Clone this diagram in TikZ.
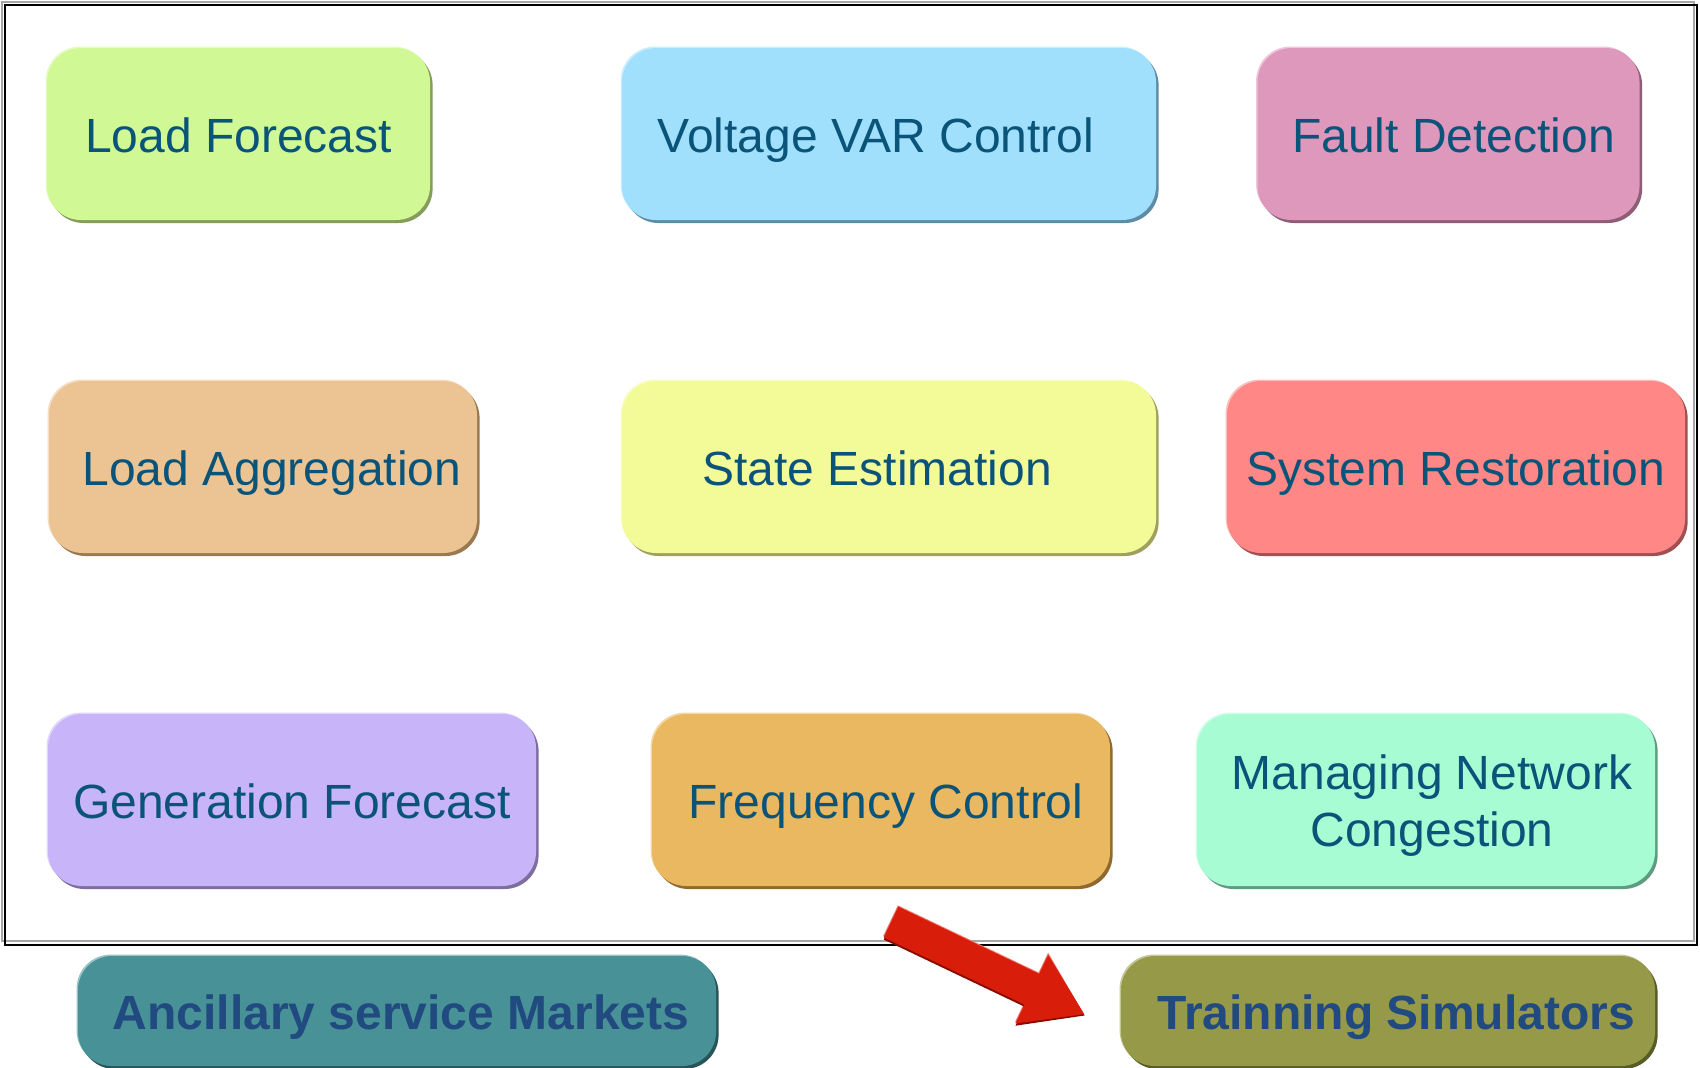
\documentclass[tikz,border=0pt]{standalone}
\usepackage{fontspec}
\setmainfont{Liberation Sans}
\usetikzlibrary{shadows}
\definecolor{txt}{HTML}{0B5479}
\definecolor{txtb}{HTML}{214A80}
\definecolor{cLF}{HTML}{D0F996}\definecolor{eLF}{HTML}{869C5C}
\definecolor{cVV}{HTML}{A0E0FC}\definecolor{eVV}{HTML}{5E8CA6}
\definecolor{cFD}{HTML}{DE98BC}\definecolor{eFD}{HTML}{8E5E76}
\definecolor{cLA}{HTML}{ECC494}\definecolor{eLA}{HTML}{9A7850}
\definecolor{cSE}{HTML}{F3FB98}\definecolor{eSE}{HTML}{A0A05E}
\definecolor{cSR}{HTML}{FF8886}\definecolor{eSR}{HTML}{A05050}
\definecolor{cGF}{HTML}{C8B4F8}\definecolor{eGF}{HTML}{7E6EA0}
\definecolor{cFC}{HTML}{E9B860}\definecolor{eFC}{HTML}{8E6A30}
\definecolor{cMN}{HTML}{A8FCD4}\definecolor{eMN}{HTML}{5E9C80}
\definecolor{cAM}{HTML}{479197}\definecolor{eAM}{HTML}{285658}
\definecolor{cTS}{HTML}{969A48}\definecolor{eTS}{HTML}{585C26}
\definecolor{arr}{HTML}{D81E0A}\definecolor{arrd}{HTML}{8A0C00}\definecolor{arrl}{HTML}{EE7A70}
\tikzset{
  tbox/.style 2 args={rectangle, rounded corners=17pt, inner sep=0pt, fill=#1,
    general shadow={fill=#1!55!white, shadow xshift=-0.7pt, shadow yshift=0.7pt},
    general shadow={fill=#2, shadow xshift=1.3pt, shadow yshift=-1.5pt},
    minimum height=86pt, font=\fontsize{24}{28.8}\selectfont, text=txt, align=center,
    text height=18pt, text depth=0pt},
  bbox/.style 2 args={tbox={#1}{#2}, minimum height=55pt,
    font=\fontsize{24}{28.8}\selectfont\bfseries, text=txtb},
}
\begin{document}
\begin{tikzpicture}[x=0.5pt,y=-0.5pt]
\useasboundingbox (0,0) rectangle (1700,1067);
\fill[white] (0,0) rectangle (1700,1067);
% frame
\draw[gray!70, line width=1pt] (2,2) rectangle (1694,941);
\draw[black, line width=1.1pt] (5,5) rectangle (1697,945);
% boxes row 1
\node[tbox={cLF}{eLF}, minimum width=191.5pt] (lf) at (238.5,134) {Load Forecast};
\node[tbox={cVV}{eVV}, minimum width=267pt] (vv) at (889,134) {Voltage VAR Control\hspace*{13pt}};
\node[tbox={cFD}{eFD}, minimum width=191pt] (fd) at (1448.5,134) {\hspace*{5pt}Fault Detection};
% row 2
\node[tbox={cLA}{eLA}, minimum width=214pt] (la) at (263,467) {\hspace*{9pt}Load Aggregation};
\node[tbox={cSE}{eSE}, minimum width=267pt] (se) at (889,467) {State Estimation\hspace*{12pt}};
\node[tbox={cSR}{eSR}, minimum width=229pt] (sr) at (1456,467) {System Restoration};
% row 3
\node[tbox={cGF}{eGF}, minimum width=244pt] (gf) at (292,800) {Generation Forecast};
\node[tbox={cFC}{eFC}, minimum width=229pt] (fc) at (881,800) {\hspace*{5pt}Frequency Control};
\node[tbox={cMN}{eMN}, minimum width=229pt, text height=46.8pt] (mn) at (1426,800) {\hspace*{6pt}Managing Network\\\hspace*{6pt}Congestion};
% bottom
\node[bbox={cAM}{eAM}, minimum width=319pt] (am) at (397,1011) {\hspace*{4pt}Ancillary service Markets};
\node[bbox={cTS}{eTS}, minimum width=267pt] (ts) at (1388,1011) {\hspace*{8pt}Trainning Simulators};
% block arrow
\begin{scope}[shift={(891,922)}, rotate=-25.5]
  \fill[arrl] (-1,-18) -- (155,-18) -- (155,-40) -- (212,-1) -- (155,37) -- (155,16) -- (-1,16) -- cycle;
  \fill[arrd] (1,-16) -- (157,-16) -- (157,-37) -- (215,1) -- (157,40) -- (157,19) -- (1,19) -- cycle;
  \fill[arr] (0,-17) -- (156,-17) -- (156,-38) -- (214,0) -- (156,38) -- (156,17) -- (0,17) -- cycle;
\end{scope}
\end{tikzpicture}
\end{document}
